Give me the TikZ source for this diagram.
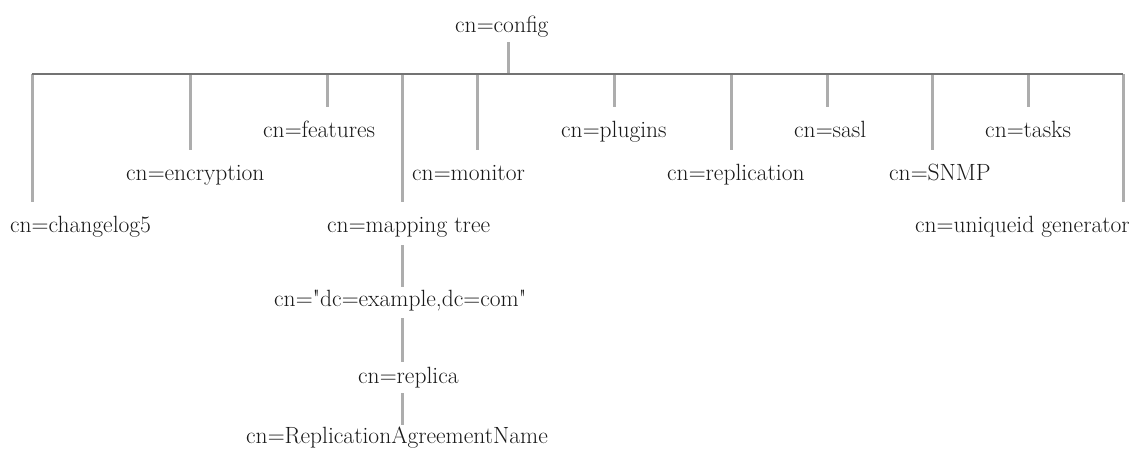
\documentclass[tikz,border=0pt]{standalone}
\usepackage{fontspec}
\usepackage{tikz}
\begin{document}
\begin{tikzpicture}[x=1pt,y=-1pt,
  lbl/.style={anchor=base west,inner sep=0pt,text height=17pt,text depth=5pt,font=\fontsize{23.5}{26}\selectfont,text=black!90},
  bar/.style={draw=black!55,line width=2.3pt},
  stem/.style={draw=black!32,line width=3pt}]
\useasboundingbox (0,0) rectangle (1133,450);
% labels
\node[lbl] (cfg) at (455,32) {cn=config};
\node[lbl] (chg) at (10,232) {cn=changelog5};
\node[lbl] (enc) at (126,180) {cn=encryption};
\node[lbl] (fea) at (263,137) {cn=features};
\node[lbl] (map) at (327,232) {cn=mapping tree};
\node[lbl] (mon) at (412,180) {cn=monitor};
\node[lbl] (plu) at (561,137) {cn=plugins};
\node[lbl] (rep) at (667,180) {cn=replication};
\node[lbl] (sas) at (794,137) {cn=sasl};
\node[lbl] (snm) at (889,180) {cn=SNMP};
\node[lbl] (tas) at (985,137) {cn=tasks};
\node[lbl,anchor=base east] (uni) at (1130,232) {cn=uniqueid generator};
\node[lbl] (dcx) at (274,306) {cn=\textquotedbl dc=example,dc=com\textquotedbl};
\node[lbl] (rca) at (358,383) {cn=replica};
\node[lbl] (ran) at (246,443) {cn=ReplicationAgreementName};
% bar coordinates
\coordinate (top) at (508,74);
\coordinate (b1) at (32,74);
\coordinate (b2) at (190,74);
\coordinate (b3) at (327,74);
\coordinate (b4) at (402,74);
\coordinate (b5) at (477,74);
\coordinate (b6) at (614,74);
\coordinate (b7) at (731,74);
\coordinate (b8) at (827,74);
\coordinate (b9) at (932,74);
\coordinate (b10) at (1028,74);
\coordinate (b11) at (1123,74);
% stems
\draw[stem,shorten <=5pt] (cfg.south -| top) -- (top);
\draw[stem,shorten >=13pt] (b1) -- (b1 |- chg.north);
\draw[stem,shorten >=13pt] (b2) -- (b2 |- enc.north);
\draw[stem,shorten >=13pt] (b3) -- (b3 |- fea.north);
\draw[stem,shorten >=13pt] (b4) -- (b4 |- map.north);
\draw[stem,shorten >=13pt] (b5) -- (b5 |- mon.north);
\draw[stem,shorten >=13pt] (b6) -- (b6 |- plu.north);
\draw[stem,shorten >=13pt] (b7) -- (b7 |- rep.north);
\draw[stem,shorten >=13pt] (b8) -- (b8 |- sas.north);
\draw[stem,shorten >=13pt] (b9) -- (b9 |- snm.north);
\draw[stem,shorten >=13pt] (b10) -- (b10 |- tas.north);
\draw[stem,shorten >=13pt] (b11) -- (b11 |- uni.north);
\draw[stem,shorten <=8pt,shorten >=2pt] (map.south -| b4) -- (dcx.north -| b4);
\draw[stem,shorten <=7pt,shorten >=4pt] (dcx.south -| b4) -- (rca.north -| b4);
\draw[stem,shorten <=5pt,shorten >=1pt] (rca.south -| b4) -- (ran.north -| b4);
% bar
\draw[bar] (b1) -- (b11);
\end{tikzpicture}
\end{document}
